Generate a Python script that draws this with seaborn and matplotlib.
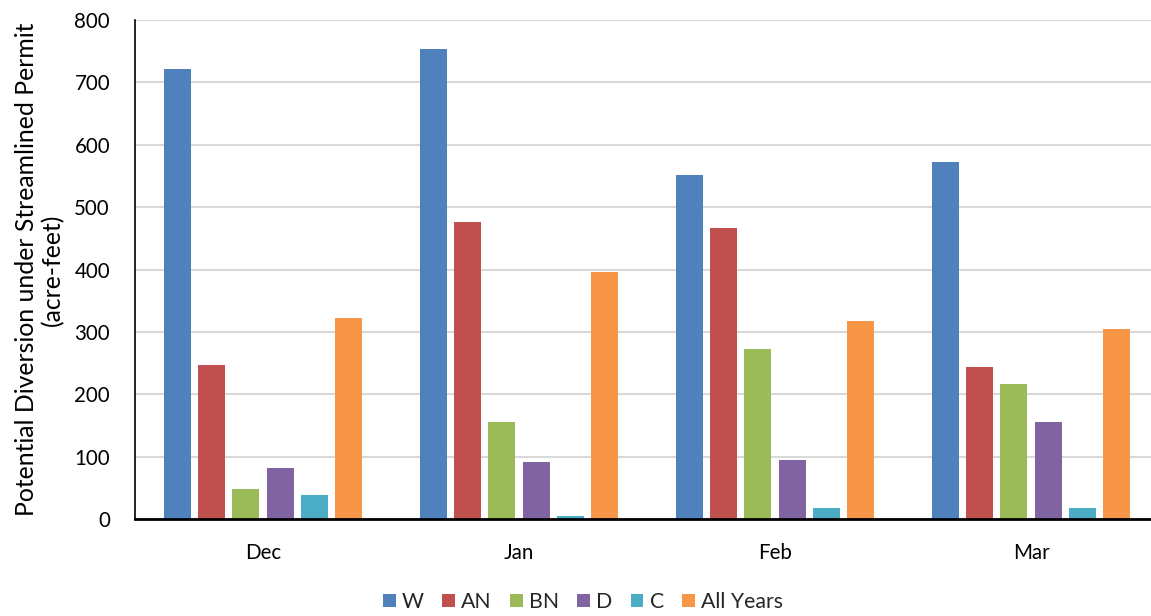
import matplotlib
matplotlib.use("Agg")
import matplotlib.pyplot as plt
import seaborn as sns
import pandas as pd
from matplotlib.patches import Patch

# Monthly potential diversion by water-year type (acre-feet)
months = ["Dec", "Jan", "Feb", "Mar"]
year_types = ["W", "AN", "BN", "D", "C", "All Years"]
w_vals = [721, 753, 551, 572]
an_vals = [247, 476, 467, 243]
bn_vals = [48, 155, 272, 217]
d_vals = [82, 91, 95, 155]
c_vals = [39, 5, 18, 18]
all_vals = [323, 396, 317, 304]
y_ticks = [0, 100, 200, 300, 400, 500, 600, 700, 800]

colors = ["#4F81BD", "#C0504D", "#9BBB59", "#8064A2", "#4BACC6", "#F79646"]

series = [w_vals, an_vals, bn_vals, d_vals, c_vals, all_vals]
rows = []
for name, vals in zip(year_types, series):
    for m, v in zip(months, vals):
        rows.append({"Month": m, "Type": name, "Value": v})
df = pd.DataFrame(rows)

sns.set_theme(style="white")
plt.rcParams["font.family"] = ["Lato", "DejaVu Sans"]

fig = plt.figure(figsize=(11.51, 6.16), dpi=100)
ax = fig.add_axes([135 / 1151, 1 - 519 / 616, 1 - 135 / 1151, (519 - 20) / 616])

sns.barplot(data=df, x="Month", y="Value", hue="Type", order=months,
            hue_order=year_types, palette=colors, width=0.805, gap=0.21,
            linewidth=0, saturation=1, legend=False, ax=ax)

ax.set_ylim(0, 800)
ax.set_xlim(-0.5, -0.5 + 1016 / 256)
ax.set_yticks(y_ticks)
ax.set_yticklabels([str(t) for t in y_ticks])
ax.yaxis.grid(True, color="#D9D9D9", linewidth=1.5)
ax.set_axisbelow(True)
for s in ["top", "right"]:
    ax.spines[s].set_visible(False)
ax.spines["left"].set_color("black")
ax.spines["left"].set_linewidth(1.2)
ax.spines["bottom"].set_color("black")
ax.spines["bottom"].set_linewidth(2)
ax.tick_params(axis="both", length=0, labelsize=14.8, colors="black")
ax.tick_params(axis="y", pad=18)
ax.tick_params(axis="x", pad=17)
ax.set_xlabel("")
ax.set_ylabel("Potential Diversion under Streamlined Permit\n(acre-feet)",
              fontsize=17.8, color="black", labelpad=7, linespacing=1.15)

handles = [Patch(facecolor=c, edgecolor="none") for c in colors]
fig.legend(handles, year_types, loc="center", ncol=6, frameon=False,
           bbox_to_anchor=(583 / 1151, 1 - 602 / 616), fontsize=15.3,
           handlelength=0.6, handleheight=0.6, handletextpad=0.3,
           columnspacing=0.85)

fig.savefig("out.png", dpi=100)
